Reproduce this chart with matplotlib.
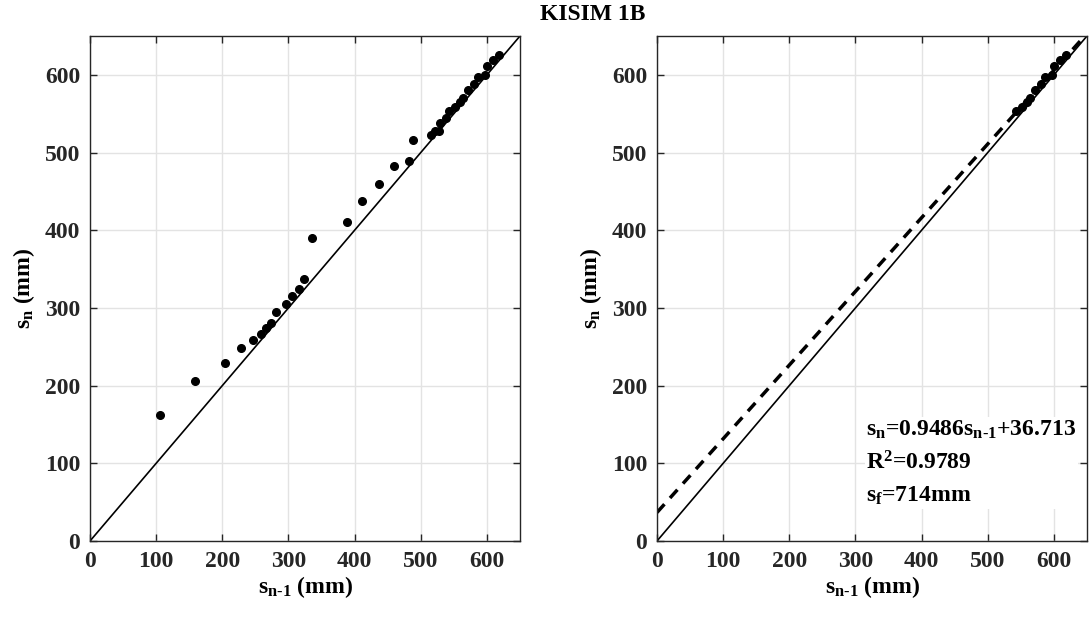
import matplotlib
matplotlib.use("Agg")
import matplotlib.pyplot as plt
import numpy as np

plt.rcParams['font.family'] = ['Liberation Serif', 'DejaVu Serif']
plt.rcParams['font.weight'] = 'bold'
plt.rcParams['mathtext.fontset'] = 'custom'
plt.rcParams['mathtext.rm'] = 'Liberation Serif:bold'
plt.rcParams['mathtext.it'] = 'Liberation Serif:bold'
plt.rcParams['mathtext.bf'] = 'Liberation Serif:bold'

# Data: s_{n-1} vs s_n (mm)
s_prev = [105.7, 159, 203.5, 229, 246, 259, 266, 273, 281, 295.6, 304.6, 315.7, 322.8,
          336, 389, 411, 437, 459, 482, 488, 515.6, 521, 527, 529, 538, 543, 552, 559,
          563.5, 571, 580, 587, 597, 600, 609, 618]
s_next = [162, 206, 229.5, 248, 259, 267, 274.5, 281, 295, 304.6, 315.7, 324.7, 337,
          390, 411, 437.6, 459, 483, 489, 515.6, 522, 528, 528, 537.6, 545, 553, 559,
          564.6, 570, 580, 587.7, 597, 600, 611, 619.6, 625.5]

# Right panel: fitted subset (linear stage)
fit_start = 25
slope = 0.9486
intercept = 36.713
r2 = 0.9789
s_f = 714

ticks = [0, 100, 200, 300, 400, 500, 600]
lim = 650

fig = plt.figure(figsize=(10.89, 6.21), dpi=100)
ax1 = fig.add_axes([90/1089, 80/621, 430/1089, 505/621])
ax2 = fig.add_axes([657/1089, 80/621, 430/1089, 505/621])

fs = 17
sub_prev = r'$\mathregular{s_{n\text{-}1}}$'
sub_n = r'$\mathregular{s_n}$'
for ax in (ax1, ax2):
    ax.set_xlim(0, lim)
    ax.set_ylim(0, lim)
    ax.set_xticks(ticks)
    ax.set_yticks(ticks)
    ax.grid(True, color='#e3e3e3', linewidth=1.0)
    ax.set_axisbelow(True)
    ax.tick_params(direction='in', length=5, width=1, top=True, right=True,
                   labelsize=fs, colors='#262626', pad=7)
    for lbl in ax.get_xticklabels() + ax.get_yticklabels():
        lbl.set_fontweight('bold')
    for sp in ax.spines.values():
        sp.set_color('#262626')
        sp.set_linewidth(1.0)
    ax.set_xlabel(sub_prev + ' (mm)', fontsize=fs, fontweight='bold', labelpad=2)
    ax.set_ylabel(sub_n + ' (mm)', fontsize=fs, fontweight='bold', labelpad=6)
    xx = np.array([0, lim])
    ax.plot(xx, xx, color='black', linewidth=1.2)

ax1.plot(s_prev, s_next, 'o', color='black', markersize=5.5)

ax2.plot(s_prev[fit_start:], s_next[fit_start:], 'o', color='black', markersize=5.5)
xx = np.array([0, lim])
ax2.plot(xx, slope * xx + intercept, color='black', linewidth=2.5,
         linestyle=(0, (3.2, 2.4)))

txt = (sub_n + '=%.4f' % slope + sub_prev + '+%.3f' % intercept + '\n' +
       r'$\mathregular{R^2}$=%.4f' % r2 + '\n' +
       r'$\mathregular{s_f}$=%dmm' % s_f)
ax2.text(316, 158, txt, fontsize=fs, fontweight='bold', ha='left', va='top',
         linespacing=1.6, bbox=dict(facecolor='white', edgecolor='none', pad=1))

fig.text(593/1089, 1 - 14/621, 'KISIM 1B', ha='center', va='center',
         fontsize=fs, fontweight='bold')

fig.savefig('out.png', dpi=100)
